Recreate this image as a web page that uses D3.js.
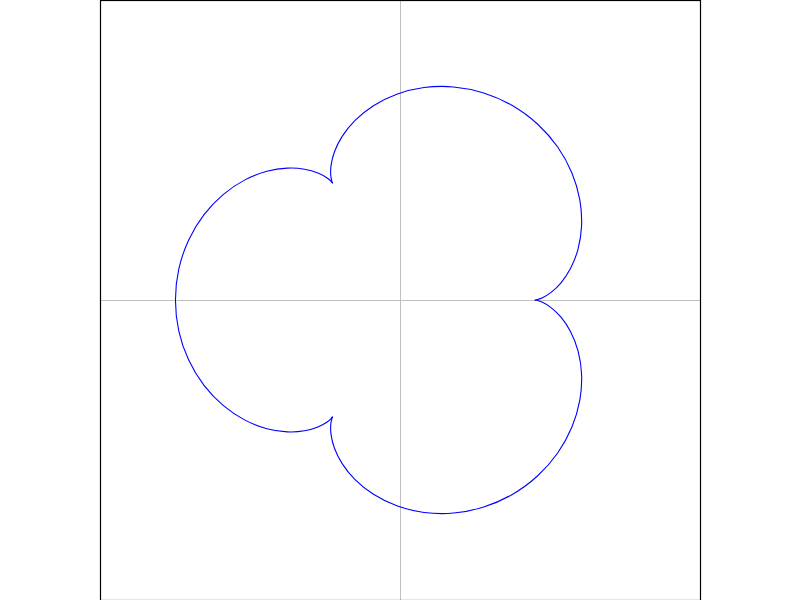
<!DOCTYPE html>
<html>
<head>
<meta charset="utf-8">
<script src="https://cdn.jsdelivr.net/npm/d3@7"></script>
<style>
  html, body { margin: 0; padding: 0; background: #fff; }
  svg { display: block; }
</style>
</head>
<body>
<svg id="chart" width="800" height="600"></svg>
<script>
// Curve (data units), three lobes between the cusps
const lobeA = [
  [3.000, 0.000], [3.045, 0.007], [3.173, 0.052], [3.364, 0.169], [3.585, 0.383],
  [3.799, 0.706], [3.964, 1.134], [4.043, 1.652], [4.004, 2.229], [3.828, 2.828],
  [3.511, 3.406], [3.060, 3.919], [2.500, 4.330], [1.864, 4.610], [1.194, 4.744],
  [0.535, 4.730], [-0.071, 4.582], [-0.591, 4.327], [-1.000, 4.000], [-1.288, 3.643],
  [-1.461, 3.296], [-1.535, 2.998], [-1.542, 2.774], [-1.517, 2.640], [-1.500, 2.598]
];
const lobeB = [
  [-1.500, 2.598], [-1.528, 2.634], [-1.631, 2.722], [-1.828, 2.828], [-2.124, 2.913],
  [-2.511, 2.937], [-2.964, 2.866], [-3.452, 2.675], [-3.932, 2.353], [-4.364, 1.901],
  [-4.705, 1.337], [-4.925, 0.691], [-5.000, 0.000], [-4.925, -0.691], [-4.705, -1.337],
  [-4.364, -1.901], [-3.932, -2.353], [-3.452, -2.675], [-2.964, -2.866], [-2.511, -2.937],
  [-2.124, -2.913], [-1.828, -2.828], [-1.631, -2.722], [-1.528, -2.634], [-1.500, -2.598]
];
const lobeC = [
  [-1.500, -2.598], [-1.517, -2.640], [-1.542, -2.774], [-1.535, -2.998], [-1.461, -3.296],
  [-1.288, -3.643], [-1.000, -4.000], [-0.591, -4.327], [-0.071, -4.582], [0.535, -4.730],
  [1.194, -4.744], [1.864, -4.610], [2.500, -4.330], [3.060, -3.919], [3.511, -3.406],
  [3.828, -2.828], [4.004, -2.229], [4.043, -1.652], [3.964, -1.134], [3.799, -0.706],
  [3.585, -0.383], [3.364, -0.169], [3.173, -0.052], [3.045, -0.007], [3.000, 0.000]
];
const lobes = [lobeA, lobeB, lobeC];
const xDomain = [-6.68, 6.68];
const yDomain = [-6.68, 6.68];
const gridX = [0];
const gridY = [0];

const svg = d3.select("#chart");
const pLeft = 100, pRight = 700, pTop = 0, pBottom = 600;
const x = d3.scaleLinear().domain(xDomain).range([pLeft, pRight]);
const y = d3.scaleLinear().domain(yDomain).range([pBottom, pTop]);

// grid lines
svg.selectAll("line.gx").data(gridX).enter().append("line")
  .attr("x1", d => Math.round(x(d)) + 0.5).attr("x2", d => Math.round(x(d)) + 0.5)
  .attr("y1", pTop).attr("y2", pBottom)
  .attr("stroke", "#c0c0c0").attr("stroke-width", 1);
svg.selectAll("line.gy").data(gridY).enter().append("line")
  .attr("y1", d => Math.round(y(d)) + 0.5).attr("y2", d => Math.round(y(d)) + 0.5)
  .attr("x1", pLeft).attr("x2", pRight)
  .attr("stroke", "#c0c0c0").attr("stroke-width", 1);

// curve
const line = d3.line()
  .x(d => x(d[0])).y(d => y(d[1]))
  .curve(d3.curveCatmullRom.alpha(0.5));
svg.selectAll("path.lobe").data(lobes).enter().append("path")
  .attr("class", "lobe")
  .attr("d", line)
  .attr("fill", "none")
  .attr("stroke", "#0000ff")
  .attr("stroke-width", 1.1);

// frame
svg.append("rect")
  .attr("x", pLeft + 0.5).attr("y", pTop + 0.5)
  .attr("width", pRight - pLeft).attr("height", pBottom - pTop)
  .attr("fill", "none").attr("stroke", "#000").attr("stroke-width", 1.2);
</script>
</body>
</html>
